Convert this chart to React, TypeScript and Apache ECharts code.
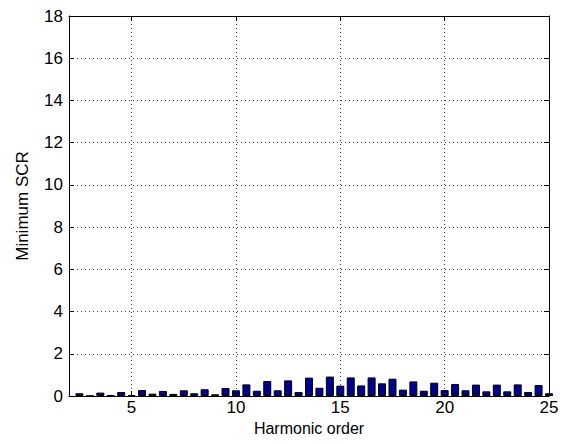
import React, { useEffect, useRef } from "react";
import * as echarts from "echarts";

const harmonicOrder = [
  2.5, 3, 3.5, 4, 4.5, 5, 5.5, 6, 6.5, 7, 7.5, 8, 8.5, 9, 9.5, 10, 10.5, 11, 11.5, 12,
  12.5, 13, 13.5, 14, 14.5, 15, 15.5, 16, 16.5, 17, 17.5, 18, 18.5, 19, 19.5, 20, 20.5,
  21, 21.5, 22, 22.5, 23, 23.5, 24, 24.5, 25,
];
const minimumSCR = [
  0.13, 0.01, 0.16, 0.05, 0.19, 0.05, 0.28, 0.11, 0.24, 0.1, 0.27, 0.13, 0.32, 0.08, 0.38,
  0.27, 0.55, 0.25, 0.71, 0.27, 0.74, 0.19, 0.87, 0.39, 0.92, 0.49, 0.88, 0.5, 0.88, 0.6,
  0.82, 0.3, 0.69, 0.25, 0.63, 0.28, 0.57, 0.27, 0.54, 0.22, 0.54, 0.22, 0.55, 0.19, 0.52,
  0.13,
];
const xTicks = [5, 10, 15, 20, 25];
const xLabel = "Harmonic order";
const yLabel = "Minimum SCR";

const FONT = "Liberation Sans, Arial, sans-serif";

export default function App() {
  const ref = useRef<HTMLDivElement>(null);
  useEffect(() => {
    if (!ref.current) return;
    const chart = echarts.init(ref.current, null, { renderer: "svg" });
    const grid = { left: 69, right: 18, top: 16, bottom: 48 };
    const dotted = { color: "#444", width: 1, type: [1, 3] as number[] };
    chart.setOption({
      animation: false,
      backgroundColor: "#fff",
      grid,
      xAxis: [
        {
          type: "value",
          min: 2,
          max: 25,
          position: "bottom",
          name: xLabel,
          nameLocation: "middle",
          nameGap: 21,
          nameTextStyle: { fontFamily: FONT, fontSize: 16, color: "#000" },
          axisLine: { show: true, lineStyle: { color: "#000", width: 1 } },
          axisTick: { show: true, inside: true, length: 5, customValues: xTicks, lineStyle: { color: "#000" } },
          axisLabel: { customValues: xTicks, fontFamily: FONT, fontSize: 17, color: "#000", margin: 3 },
          splitLine: { show: true, lineStyle: dotted },
        },
        {
          type: "value",
          min: 2,
          max: 25,
          position: "top",
          axisLine: { show: true, onZero: false, lineStyle: { color: "#000", width: 1 } },
          axisTick: { show: true, inside: true, length: 5, customValues: xTicks, lineStyle: { color: "#000" } },
          axisLabel: { show: false },
          splitLine: { show: false },
        },
      ],
      yAxis: [
        {
          type: "value",
          min: 0,
          max: 18,
          interval: 2,
          position: "left",
          name: yLabel,
          nameLocation: "middle",
          nameGap: 38,
          nameTextStyle: { fontFamily: FONT, fontSize: 17, color: "#000" },
          axisLine: { show: true, lineStyle: { color: "#000", width: 1 } },
          axisTick: { show: true, inside: true, length: 5, lineStyle: { color: "#000" } },
          axisLabel: { fontFamily: FONT, fontSize: 17, color: "#000", margin: 6 },
          splitLine: { show: true, lineStyle: dotted },
        },
        {
          type: "value",
          min: 0,
          max: 18,
          interval: 2,
          position: "right",
          axisLine: { show: true, onZero: false, lineStyle: { color: "#000", width: 1 } },
          axisTick: { show: true, inside: true, length: 5, lineStyle: { color: "#000" } },
          axisLabel: { show: false },
          splitLine: { show: false },
        },
      ],
      series: [
        {
          type: "bar",
          xAxisIndex: 0,
          yAxisIndex: 0,
          data: harmonicOrder.map((x, i) => [x, minimumSCR[i]]),
          barWidth: 8,
          clip: true,
          itemStyle: { color: "#00008F", borderColor: "#000", borderWidth: 1 },
        },
      ],
    });
    return () => chart.dispose();
  }, []);
  return (
    <div
      ref={ref}
      style={{ position: "fixed", left: 0, top: 0, width: 567, height: 444 }}
    />
  );
}
